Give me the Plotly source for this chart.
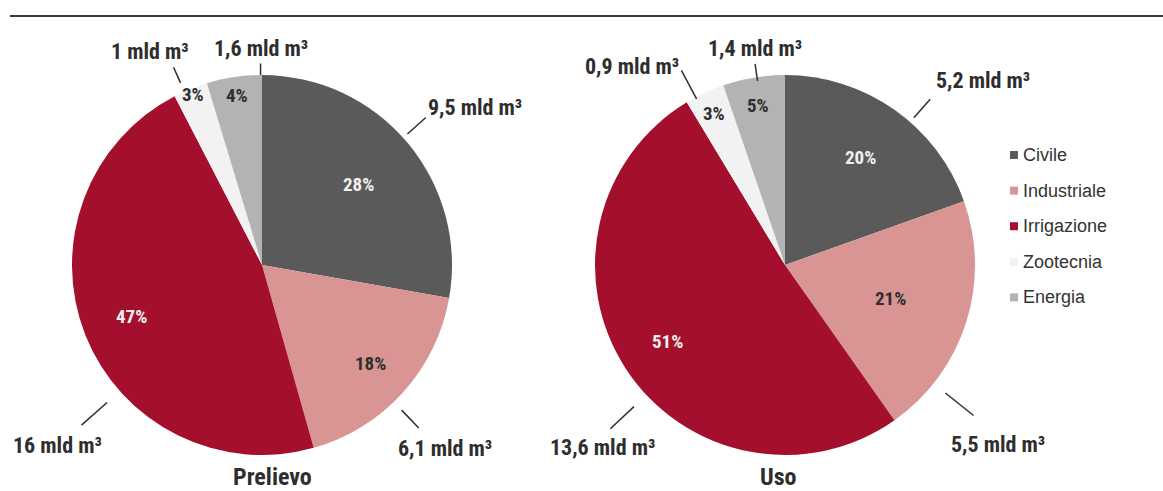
import math
import plotly.graph_objects as go

W, H = 1163, 491

categories = ["Civile", "Industriale", "Irrigazione", "Zootecnia", "Energia"]
colors = ["#5a5a5a", "#d99594", "#a50f2e", "#f2f2f2", "#b3b3b3"]

prelievo_values = [9.5, 6.1, 16, 1, 1.6]
prelievo_labels = ["9,5 mld m³", "6,1 mld m³", "16 mld m³", "1 mld m³", "1,6 mld m³"]
prelievo_pct = ["28%", "18%", "47%", "3%", "4%"]

uso_values = [5.2, 5.5, 13.6, 0.9, 1.4]
uso_labels = ["5,2 mld m³", "5,5 mld m³", "13,6 mld m³", "0,9 mld m³", "1,4 mld m³"]
uso_pct = ["20%", "21%", "51%", "3%", "5%"]

FONT = "Liberation Sans Narrow, Arial Narrow, Roboto Condensed, DejaVu Sans Condensed, sans-serif"
TEXT = "#2e2e2e"
R = 190
PIES = [
    dict(title="Prelievo", values=prelievo_values, labels=prelievo_labels, pct=prelievo_pct,
         cx=262, cy=265, title_x=272,
         # label placement: (angle nudge deg, r1, r2, xanchor, yanchor, dx, dy)
         place=[(-2, 1.03, 1.16, "left", "bottom", 0, 4),
                (4, 1.06, 1.19, "center", "top", 26, 6),
                (-20, 1.09, 1.27, "center", "top", -24, 6),
                (-2, 1.05, 1.14, "center", "bottom", -24, -1),
                (8, 1.0, 1.06, "center", "bottom", 0, -1)],
         pct_r=[0.66, 0.77, 0.74, 0.97, 0.9]),
    dict(title="Uso", values=uso_values, labels=uso_labels, pct=uso_pct,
         cx=785, cy=265, title_x=778,
         place=[(6, 1.03, 1.16, "left", "bottom", 4, -4),
                (21, 1.08, 1.27, "center", "top", 24, 14),
                (-10, 1.09, 1.26, "center", "top", -8, 4),
                (-3, 0.99, 1.16, "right", "middle", 0, -4),
                (1, 0.98, 1.07, "center", "bottom", 0, -1)],
         pct_r=[0.69, 0.58, 0.74, 0.88, 0.85]),
]
pct_colors = ["#f0f0f0", TEXT, "#f0f0f0", TEXT, TEXT]


def px2paper(x, y):
    return x / W, 1 - y / H


def bold(size, color=TEXT):
    return dict(family=FONT, size=size, color=color, weight="bold")


fig = go.Figure()
lx0, ly0 = px2paper(10, 16)
shapes = [dict(type="line", xref="paper", yref="paper", x0=lx0, x1=1, y0=ly0, y1=ly0,
               line=dict(color="#3a3a3a", width=2))]
annotations = []

for p in PIES:
    cx, cy = p["cx"], p["cy"]
    dx0, dy0 = px2paper(cx - R, cy + R)
    dx1, dy1 = px2paper(cx + R, cy - R)
    fig.add_trace(go.Pie(
        values=p["values"], labels=categories, sort=False, direction="clockwise", rotation=0,
        marker=dict(colors=colors, line=dict(width=0)), textinfo="none", hoverinfo="label+value+percent",
        showlegend=False, domain=dict(x=[dx0, dx1], y=[dy0, dy1]),
    ))
    total = sum(p["values"])
    cum = 0
    for i, v in enumerate(p["values"]):
        mid = (cum + v / 2) / total * 360
        cum += v
        a = math.radians(mid)
        rr = p["pct_r"][i] * R
        x, y = px2paper(cx + rr * math.sin(a), cy - rr * math.cos(a))
        annotations.append(dict(x=x, y=y, xref="paper", yref="paper", text=p["pct"][i], showarrow=False,
                                font=bold(19, pct_colors[i]), xanchor="center", yanchor="middle"))
        nudge, r1, r2, xa, ya, dx, dy = p["place"][i]
        a = math.radians(mid + nudge)
        x0, y0 = cx + r1 * R * math.sin(a), cy - r1 * R * math.cos(a)
        x1, y1 = cx + r2 * R * math.sin(a), cy - r2 * R * math.cos(a)
        px0, py0 = px2paper(x0, y0)
        px1, py1 = px2paper(x1, y1)
        shapes.append(dict(type="line", xref="paper", yref="paper", x0=px0, y0=py0, x1=px1, y1=py1,
                           line=dict(color=TEXT, width=1.5)))
        tx, ty = px2paper(x1 + dx, y1 + dy)
        annotations.append(dict(x=tx, y=ty, xref="paper", yref="paper", text=p["labels"][i], showarrow=False,
                                font=bold(22), xanchor=xa, yanchor=ya))
    tx, ty = px2paper(p["title_x"], 477)
    annotations.append(dict(x=tx, y=ty, xref="paper", yref="paper", text=p["title"], showarrow=False,
                            font=bold(24), xanchor="center", yanchor="middle"))

# legend drawn by hand so the swatch/text spacing matches
for k, (name, c) in enumerate(zip(categories, colors)):
    yy = 155 + 35.6 * k
    sx0, sy0 = px2paper(1010, yy - 4)
    sx1, sy1 = px2paper(1018, yy + 4)
    shapes.append(dict(type="rect", xref="paper", yref="paper", x0=sx0, y0=sy0, x1=sx1, y1=sy1,
                       line=dict(width=0), fillcolor=c))
    tx, ty = px2paper(1021, yy)
    annotations.append(dict(x=tx, y=ty, xref="paper", yref="paper", text=name, showarrow=False,
                            font=dict(family="Liberation Sans, Arial, sans-serif", size=18, color="#333333"),
                            xanchor="left", yanchor="middle"))

fig.update_layout(
    width=W, height=H, margin=dict(l=0, r=0, t=0, b=0),
    paper_bgcolor="white", plot_bgcolor="white",
    shapes=shapes, annotations=annotations, showlegend=False,
)

fig.write_html("out.html", config={"displayModeBar": False},
               post_script="document.body.style.margin='0';")
